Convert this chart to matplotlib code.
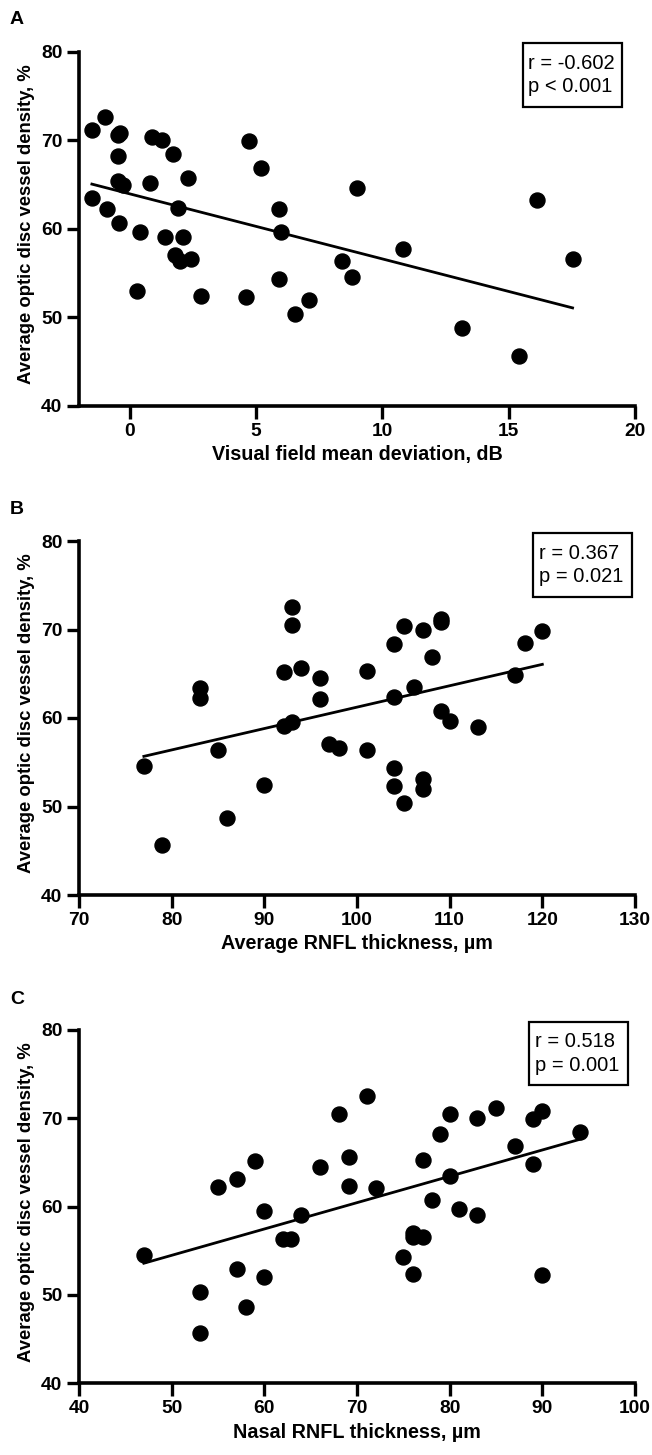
import numpy as np
import matplotlib
matplotlib.use('Agg')
import matplotlib.pyplot as plt
from matplotlib.patches import Rectangle

plt.rcParams['font.family'] = ['Liberation Sans', 'DejaVu Sans']

# Panel A: visual field mean deviation vs vessel density
md_db = [-1.49, -0.99, -0.46, -0.37, -0.46, -0.46, -0.27, -1.49, -0.90, -0.40,
         0.40, 0.30, 0.79, 0.90, 1.30, 1.71, 2.31, 1.91, 1.41, 2.11,
         1.81, 2.01, 2.44, 2.81, 4.71, 5.22, 4.62, 5.90, 6.00, 5.90,
         6.53, 7.10, 8.42, 8.82, 9.00, 10.82, 13.14, 16.13, 17.53, 15.42]
vd_a = [71.15, 72.6, 70.6, 70.85, 68.25, 65.4, 64.9, 63.5, 62.2, 60.7,
        59.7, 52.96, 65.2, 70.4, 70.0, 68.4, 65.7, 62.3, 59.1, 59.1,
        57.0, 56.35, 56.65, 52.4, 69.9, 66.9, 52.3, 62.2, 59.6, 54.3,
        50.4, 52.0, 56.35, 54.6, 64.6, 57.7, 48.75, 63.25, 56.65, 45.7]

# Panel B: average RNFL thickness vs vessel density
rnfl_avg = [77.0, 79.0, 83.1, 83.1, 85.0, 86.0, 90.0, 93.0, 93.0, 92.1,
            94.0, 96.0, 96.0, 92.1, 93.0, 97.0, 98.1, 101.1, 101.1, 104.0,
            105.1, 107.1, 109.1, 109.1, 108.1, 104.0, 106.1, 109.1, 110.0, 113.1,
            104.0, 104.0, 107.1, 107.1, 105.1, 117.1, 118.1, 120.0]
vd_b = [54.58, 45.65, 63.36, 62.23, 56.38, 48.73, 52.43, 72.58, 70.47, 65.16,
        65.6, 64.49, 62.15, 59.1, 59.58, 57.03, 56.65, 56.38, 65.31, 68.32,
        70.4, 69.94, 71.19, 70.81, 66.93, 62.34, 63.47, 60.79, 59.66, 59.02,
        54.32, 52.35, 53.07, 51.94, 50.36, 64.86, 68.44, 69.83]

# Panel C: nasal RNFL thickness vs vessel density
rnfl_nasal = [47.0, 53.1, 53.1, 55.0, 57.0, 57.0, 58.0, 59.0, 60.0, 60.0,
              62.0, 62.9, 64.0, 66.0, 68.1, 69.1, 69.1, 71.1, 72.0, 77.1,
              79.0, 80.0, 83.0, 85.0, 89.0, 90.0, 94.1, 87.1, 89.0, 80.0,
              78.1, 81.0, 83.0, 76.0, 76.0, 77.1, 75.0, 76.0, 90.0]
vd_c = [54.52, 50.29, 45.65, 62.19, 63.13, 52.9, 48.67, 65.16, 59.54, 51.99,
        56.3, 56.3, 59.05, 64.52, 70.45, 65.58, 62.33, 72.53, 62.14, 65.28,
        68.22, 70.45, 70.0, 71.13, 69.89, 70.86, 68.48, 66.9, 64.82, 63.47,
        60.75, 59.69, 59.05, 56.98, 56.52, 56.6, 54.26, 52.37, 52.25]

letters = ['A', 'B', 'C']
xlabels = ['Visual field mean deviation, dB', 'Average RNFL thickness, µm',
           'Nasal RNFL thickness, µm']
ylabel = 'Average optic disc vessel density, %'
stats = ['r = -0.602\np < 0.001', 'r = 0.367\np = 0.021', 'r = 0.518\np = 0.001']
xlims = [(-2, 20), (70, 130), (40, 100)]
xticks = [[0, 5, 10, 15, 20], [70, 80, 90, 100, 110, 120, 130],
          [40, 50, 60, 70, 80, 90, 100]]
yticks = [40, 50, 60, 70, 80]

xs = [md_db, rnfl_avg, rnfl_nasal]
ys = [vd_a, vd_b, vd_c]

W, H = 652, 1455
fig = plt.figure(figsize=(W / 100, H / 100), dpi=100)

# axes boxes in pixels: left, top, right, bottom
boxes = [(79, 51.7, 635, 406), (79, 541, 635, 895), (79, 1030, 635, 1383.3)]
letter_y = [20, 510, 999]
# stats boxes in pixels: left, top, right, bottom, text left
stat_boxes = [(522.7, 42.7, 621.7, 107.3, 528),
              (533.3, 532.7, 631.7, 597.3, 539),
              (529.3, 1021.7, 627.7, 1085, 535)]

for i in range(3):
    l, t, r, b = boxes[i]
    ax = fig.add_axes([l / W, 1 - b / H, (r - l) / W, (b - t) / H])
    x = np.array(xs[i])
    y = np.array(ys[i])
    ax.plot(x, y, 'o', color='black', ms=10.8, mec='black', clip_on=False, zorder=3)
    k, c0 = np.polyfit(x, y, 1)
    xf = np.array([x.min(), x.max()])
    ax.plot(xf, k * xf + c0, color='black', lw=2.0, zorder=2)

    ax.set_xlim(*xlims[i])
    ax.set_ylim(40, 80)
    ax.set_xticks(xticks[i])
    ax.set_yticks(yticks)
    for s in ['top', 'right']:
        ax.spines[s].set_visible(False)
    for s in ['left', 'bottom']:
        ax.spines[s].set_linewidth(2.6)
    ax.tick_params(width=2.4, length=9, labelsize=13.8, pad=3)
    for lab in ax.get_xticklabels() + ax.get_yticklabels():
        lab.set_fontweight('bold')
    ax.set_xlabel(xlabels[i], fontsize=14.2, fontweight='bold', labelpad=4)
    ax.set_ylabel(ylabel, fontsize=13.3, fontweight='bold')
    ax.yaxis.set_label_coords(-0.080, 0.513)

    fig.text(10 / W, 1 - letter_y[i] / H, letters[i], fontsize=14,
             fontweight='bold', va='center', ha='left')

    bl, bt, br, bb, tx = stat_boxes[i]
    fig.patches.append(Rectangle((bl / W, 1 - bb / H), (br - bl) / W, (bb - bt) / H,
                                 transform=fig.transFigure, fc='white', ec='black',
                                 lw=1.6, zorder=5))
    fig.text(tx / W, 1 - (bt + bb) / 2 / H, stats[i], fontsize=14.5, va='center',
             ha='left', linespacing=1.3, zorder=6)

fig.savefig('out.png', dpi=100)
